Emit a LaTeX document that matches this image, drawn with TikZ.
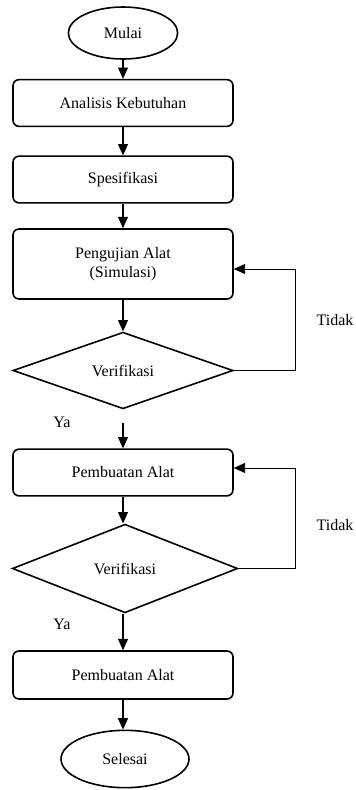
\documentclass[tikz,border=0pt]{standalone}
\usepackage{fontspec}
\setmainfont{Liberation Serif}
\usepackage{tikz}
\usetikzlibrary{positioning, arrows.meta, shapes}
\tikzset{
  term/.style={
    draw, ellipse, line width=1.2pt,
    inner sep=0pt, font=\fontsize{12}{14}\selectfont
  },
  proc/.style={
    draw, rectangle, rounded corners=4.5pt, line width=1.2pt,
    minimum width=165pt, minimum height=35pt,
    font=\fontsize{12}{13.8}\selectfont, align=center
  },
  dec/.style={
    draw, diamond, aspect=2.8, line width=1.2pt,
    inner sep=0pt, font=\fontsize{12}{14}\selectfont
  },
  lbl/.style={font=\fontsize{12}{14}\selectfont, inner sep=0pt},
  harr/.style={-{Triangle[length=8.5pt, width=7.5pt]}, line width=0.8pt},
  backarr/.style={-{Triangle[length=8.5pt, width=7.5pt]}, line width=0.6pt},
}

\begin{document}
\begin{tikzpicture}[x=0.75pt, y=-0.75pt]
        \useasboundingbox (0,0) rectangle (356,790);
        \node[term, minimum width=82pt, minimum height=39pt] (mulai) at (123, 33) {Mulai};
        \node[proc] (analisis) at (123, 103) {Analisis Kebutuhan};
        \node[proc] (spek) at (123, 179.5) {Spesifikasi};
        \node[proc, minimum height=52.5pt] (uji) at (123, 264) {Pengujian Alat\\(Simulasi)};
        \node[dec, minimum width=165pt, minimum height=57.5pt] (verif1) at (123, 370.5) {Verifikasi};
        \node[lbl] (ya1) at (62, 422) {Ya};
        \node[lbl] (tidak1) at (335, 320) {Tidak};
        \node[proc] (buat1) at (123, 472.5) {Pembuatan Alat};
        \node[dec, minimum width=169pt, minimum height=66.5pt] (verif2) at (125, 568.5) {Verifikasi};
        \node[lbl] (ya2) at (62, 624) {Ya};
        \node[lbl] (tidak2) at (335, 525) {Tidak};
        \node[proc, minimum height=36pt] (buat2) at (123, 675) {Pembuatan Alat};
        \node[term, minimum width=96pt, minimum height=43pt] (selesai) at (125, 759) {Selesai};
        % alur utama
        \draw[harr] (mulai.south -| analisis) -- (analisis);
        \draw[harr] (analisis) -- (spek);
        \draw[harr] (spek) -- (uji);
        \draw[harr] (uji) -- (verif1);
        \draw[harr, shorten <=10pt] (verif1.south) -- (buat1);
        \draw[harr] (buat1) -- (buat1 |- verif2.north);
        \draw[harr] (verif2.south -| buat2) -- (buat2);
        \draw[harr] (buat2) -- (buat2 |- selesai.north);
        % umpan balik
        \draw[backarr] (verif1.east) -- ++(62,0) |- ([yshift=-3.75pt]uji.east);
        \draw[backarr] (verif2.east) -- ++(57,0) |- ([yshift=3.4pt]buat1.east);
      \end{tikzpicture}
\end{document}
